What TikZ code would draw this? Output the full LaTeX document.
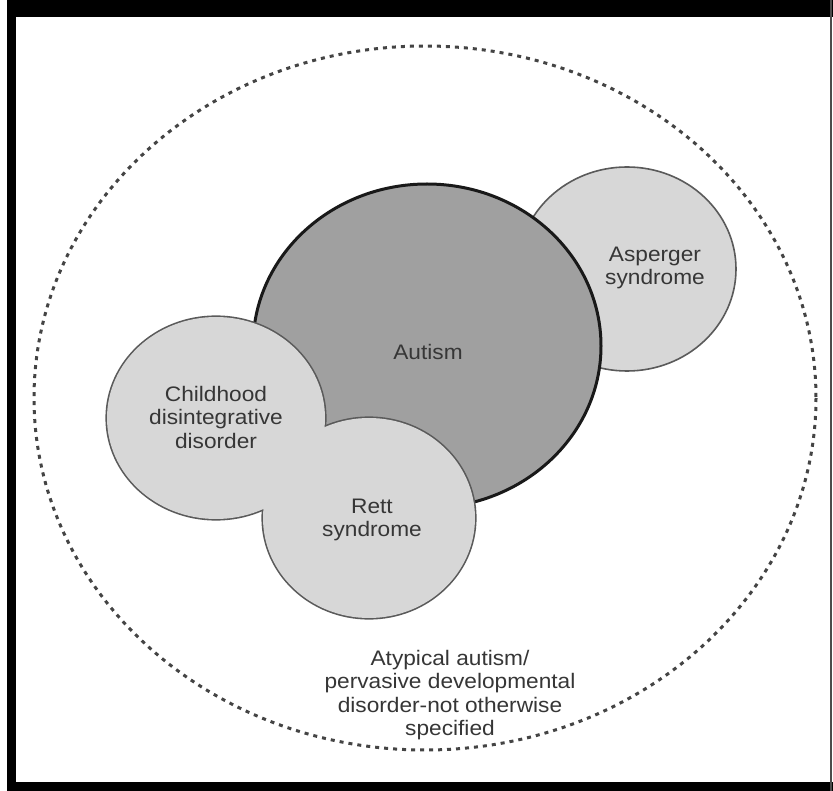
\documentclass[tikz,border=0pt]{standalone}
\usepackage{fontspec}
\newfontfamily\lblfont{Liberation Sans}[FakeStretch=1.08]
\definecolor{txt}{HTML}{363636}
\definecolor{autfill}{HTML}{A0A0A0}
\definecolor{smallfill}{HTML}{D7D7D7}
\definecolor{smalledge}{HTML}{5A5A5A}
\definecolor{dashcol}{HTML}{444444}
\tikzset{
  lbl/.style={text=txt, align=center, inner sep=0pt, font=\lblfont\fontsize{21}{23.5}\selectfont},
  outerdash/.style={draw=dashcol, line width=3pt, dash pattern=on 4pt off 5pt},
  smallring/.style={draw=smalledge, line width=3.2pt},
  smallbody/.style={fill=smallfill},
}
\begin{document}
\begin{tikzpicture}[x=1pt,y=-1pt]
\useasboundingbox (0,0) rectangle (833,791);
\fill[white] (0,0) rectangle (833,791);
% frame
\fill[black] (7,0) rectangle (833,17);
\fill[black] (7,0) rectangle (16,791);
\fill[black] (7,782) rectangle (833,791);
\fill[black!70] (829.5,0) rectangle (831.5,791);
% outer dashed ellipse
\draw[outerdash] (425,398) ellipse [x radius=391, y radius=352];
% Asperger
\draw[fill=smallfill, draw=smalledge, line width=1.6pt] (627,269) ellipse [x radius=109, y radius=102];
% Autism
\draw[fill=autfill, draw=black!90, line width=3pt] (427,346) ellipse [x radius=174, y radius=162];
% Childhood + Rett union
\draw[smallring] (216,418) ellipse [x radius=109, y radius=101];
\draw[smallring] (369,518) ellipse [x radius=106, y radius=100];
\fill[smallbody] (216,418) ellipse [x radius=109, y radius=101];
\fill[smallbody] (369,518) ellipse [x radius=106, y radius=100];
% labels
\node[lbl] (aut) at (428,352) {Autism};
\node[lbl] (asp) at (655,268) {Asperger\\syndrome};
\node[lbl] (cdd) at (216,417) {Childhood\\disintegrative\\disorder};
\node[lbl] (rett) at (372,520) {Rett\\syndrome};
\node[lbl] (atyp) at (450,695) {Atypical autism/\\pervasive developmental\\disorder-not otherwise\\specified};
\end{tikzpicture}
\end{document}
